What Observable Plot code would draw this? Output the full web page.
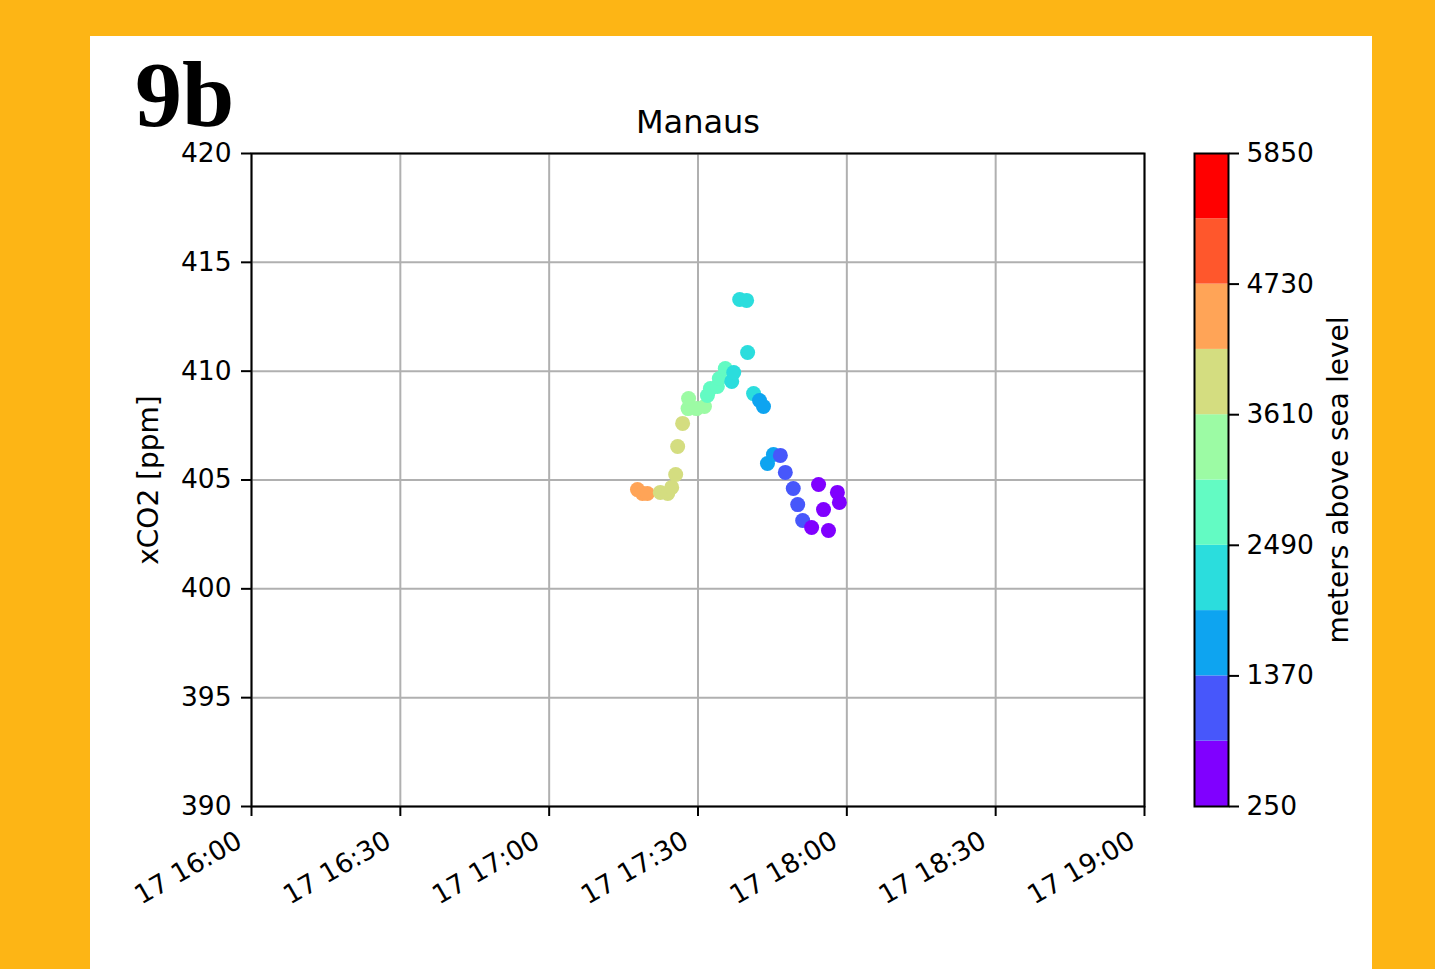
<!DOCTYPE html>
<html>
<head>
<meta charset="utf-8">
<script src="https://cdn.jsdelivr.net/npm/d3@7"></script>
<script src="https://cdn.jsdelivr.net/npm/@observablehq/plot@0.6"></script>
<style>
  html, body { margin: 0; padding: 0; }
  body { background: #FDB515; width: 1435px; height: 969px; position: relative; overflow: hidden; font-family: "DejaVu Sans", sans-serif; }
  #panel { position: absolute; left: 90px; top: 36px; width: 1282px; height: 933px; background: #fff; }
  #main { position: absolute; left: 0; top: 0; }
  #cbar { position: absolute; left: 1080px; top: 0; }
  #tag { position: absolute; left: 45px; top: 26px; font-family: "Liberation Serif", serif; font-weight: bold;
         font-size: 94px; line-height: 64px; height: 64px; white-space: nowrap; color: #000; }
</style>
</head>
<body>
<div id="panel"><div id="main"></div><div id="cbar"></div><div id="tag">9b</div></div>
<script>
// ---- data ----
const day = "2019-08-17";
const times = ["17:17:48","17:18:48","17:19:48","17:22:24","17:23:54","17:24:42","17:25:30","17:25:54","17:26:54",
  "17:28:00","17:28:06","17:29:42","17:31:18","17:31:54","17:32:30","17:33:54","17:34:18","17:35:30",
  "17:36:48","17:37:12","17:38:24","17:39:48","17:40:00","17:41:12","17:42:24","17:43:12","17:44:00","17:45:12",
  "17:46:36","17:47:36","17:49:12","17:50:06","17:51:06","17:52:54","17:54:18","17:55:18","17:56:18","17:58:06","17:58:30"];
const xco2 = [404.56,404.38,404.38,404.43,404.38,404.66,405.25,406.54,407.60,
  408.28,408.74,408.28,408.38,408.88,409.20,409.30,409.66,410.12,
  409.53,409.94,413.29,413.25,410.86,408.97,408.65,408.38,405.76,406.17,
  406.13,405.35,404.61,403.87,403.14,402.82,404.79,403.64,402.68,404.43,403.97];
const altitude = [4500,4400,4300,4100,4000,3900,3800,3700,3650,
  3550,3450,3300,3150,3000,2900,2800,2650,2550,
  2450,2400,2300,2200,2100,2000,1900,1800,1600,1450,
  1300,1200,1100,1000,880,780,700,600,500,420,350];
const yTicks = [390,395,400,405,410,415,420];
const xTickLabels = ["16:00","16:30","17:00","17:30","18:00","18:30","19:00"];
const cbBounds = [250,810,1370,1930,2490,3050,3610,4170,4730,5290,5850];
const cbTicks = [250,1370,2490,3610,4730,5850];
const cbColors = ["#8000FF","#4757FB","#0EA4F0","#2BDDDD","#63FBC3","#9CFBA4","#D4DD80","#FFA457","#FF572C","#FF0000"];

const parse = (t) => new Date(`${day}T${t}Z`);
const data = times.map((t, i) => ({time: parse(t), xco2: xco2[i], alt: altitude[i]}));
const xTicks = xTickLabels.map(parse);
const bins = cbColors.map((c, i) => ({lo: cbBounds[i], hi: cbBounds[i + 1], mid: (cbBounds[i] + cbBounds[i + 1]) / 2}));
const colorScale = {type: "threshold", domain: cbBounds.slice(1, -1), range: cbColors};
const fmt = d3.utcFormat("%d %H:%M");
const FS = 26.5;
const LFS = 28;

const main = Plot.plot({
  width: 1282, height: 933,
  marginLeft: 161, marginRight: 228, marginTop: 117, marginBottom: 163,
  style: {fontFamily: "DejaVu Sans", fontSize: FS + "px", color: "#000", background: "transparent"},
  x: {type: "utc", domain: [parse("16:00:00"), parse("19:00:00")]},
  y: {domain: [390, 420]},
  color: colorScale,
  marks: [
    Plot.gridX(xTicks, {stroke: "#b0b0b0", strokeOpacity: 1, strokeWidth: 2}),
    Plot.gridY(yTicks, {stroke: "#b0b0b0", strokeOpacity: 1, strokeWidth: 2}),
    Plot.dot(data, {x: "time", y: "xco2", fill: "alt", r: 7.5}),
    Plot.frame({stroke: "#000", strokeWidth: 2}),
    Plot.axisY({ticks: yTicks, tickSize: 10, tickPadding: 10, strokeWidth: 2, label: null, fontSize: FS}),
    Plot.axisX({ticks: xTicks, tickSize: 10, strokeWidth: 2, tickFormat: () => "", label: null}),
    Plot.text(xTicks, {x: (d) => d, text: (d) => fmt(d), frameAnchor: "bottom", rotate: -30,
      textAnchor: "end", lineAnchor: "top", dx: -17, dy: 23, fontSize: FS}),
    Plot.text(["xCO2 [ppm]"], {frameAnchor: "left", dx: -102, rotate: -90, textAnchor: "middle", lineAnchor: "middle", fontSize: LFS}),
    Plot.text(["Manaus"], {frameAnchor: "top", dy: -21, textAnchor: "middle", lineAnchor: "bottom", fontSize: 32})
  ]
});
document.getElementById("main").appendChild(main);

const cbar = Plot.plot({
  width: 200, height: 933,
  marginLeft: 24, marginRight: 142, marginTop: 117, marginBottom: 163,
  style: {fontFamily: "DejaVu Sans", fontSize: FS + "px", color: "#000", background: "transparent"},
  x: {domain: [0, 1], axis: null},
  y: {domain: [250, 5850]},
  color: colorScale,
  marks: [
    Plot.rect(bins, {x1: 0, x2: 1, y1: "lo", y2: "hi", fill: "mid"}),
    Plot.frame({stroke: "#000", strokeWidth: 2}),
    Plot.axisY({anchor: "right", ticks: cbTicks, tickSize: 10, tickPadding: 8, strokeWidth: 2, label: null,
      tickFormat: d3.format("d"), fontSize: FS}),
    Plot.text(["meters above sea level"], {frameAnchor: "right", dx: 111, rotate: -90, textAnchor: "middle", lineAnchor: "middle", fontSize: LFS})
  ]
});
document.getElementById("cbar").appendChild(cbar);
</script>
</body>
</html>
